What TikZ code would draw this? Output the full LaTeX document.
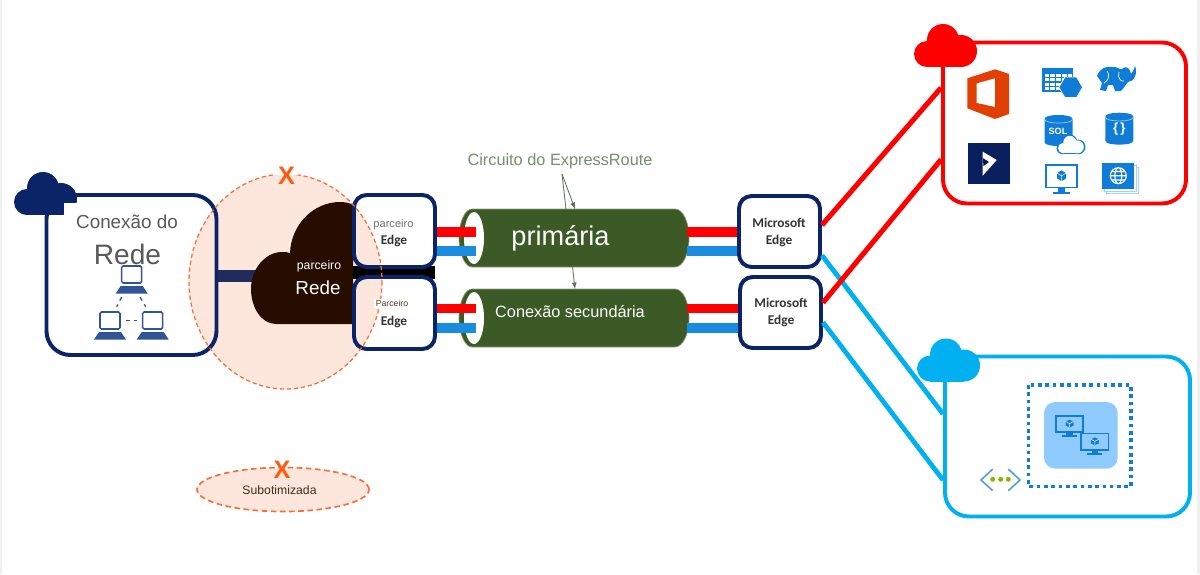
\documentclass[tikz,border=0pt]{standalone}
\usepackage{fontspec}
\setmainfont{Liberation Sans}
\newfontfamily\edgefont{Carlito}
\usetikzlibrary{shapes.geometric}
\definecolor{navyline}{HTML}{0B2468}
\definecolor{barnavy}{HTML}{222B5E}
\definecolor{lapblue}{HTML}{2F5597}
\definecolor{peach}{HTML}{FDE7DD}
\definecolor{dashorange}{HTML}{F4703A}
\definecolor{xorange}{HTML}{FF5A0E}
\definecolor{officered}{HTML}{E23F05}
\definecolor{netbrown}{HTML}{260D00}
\definecolor{tubegreen}{HTML}{3C5A25}
\definecolor{labelgreen}{HTML}{76906A}
\definecolor{barred}{HTML}{FF0000}
\definecolor{barblue}{HTML}{1A8CE0}
\definecolor{linkblue}{HTML}{00B0F0}
\definecolor{iconblue}{HTML}{0F7CD8}
\definecolor{vmback}{HTML}{8FCBFF}
\definecolor{vnetblue}{HTML}{59A5CC}
\definecolor{vnetgreen}{HTML}{7FBA00}
\definecolor{greytext}{HTML}{595959}
\tikzset{
  boxsize/.style 2 args={minimum width=#1*0.025cm,minimum height=#2*0.025cm,inner sep=0pt},
  custbox/.style={draw=navyline,line width=2.8pt,rounded corners=17pt},
  edgebox/.style={draw=navyline,line width=2.8pt,rounded corners=9pt},
  edgetext/.style={font=\edgefont\bfseries\fontsize{9.5}{11.6}\selectfont,text=black!80,align=center},
  crossmark/.style={font=\bfseries\fontsize{18}{18}\selectfont,text=xorange,inner sep=0pt},
  redlink/.style={draw=barred,line width=3.6pt},
  bluelink/.style={draw=linkblue,line width=3.4pt},
  redbar/.style={draw=barred,line width=6.6pt},
  bluebar/.style={draw=barblue,line width=6.6pt},
  circuitarrow/.style={draw=labelgreen!80!black,line width=0.6pt,-latex},
  cloudicon/.pic={
    \fill[pic actions] (13,30) circle (13);
    \fill[pic actions] (29,16) circle (16);
    \fill[pic actions] (47,27) circle (16);
    \fill[pic actions] (13,27) rectangle (47,43);
  },
  tube/.pic={
    \path[fill=tubegreen,draw=tubegreen!60!white,line width=0.5pt] (13,0) -- (216,0)
      .. controls (224,0) and (230,13) .. (230,29) .. controls (230,45) and (224,58) .. (216,58)
      -- (13,58) .. controls (6,58) and (0,45) .. (0,29) .. controls (0,13) and (6,0) .. (13,0) -- cycle;
    \fill[white] (15,29) ellipse[x radius=10,y radius=26];
    \coordinate (-mouth) at (17,29);
    \coordinate (-tail) at (228,29);
    \coordinate (-top) at (116,0);
  },
  monitor/.pic={
    \draw[draw=iconblue,line width=1.3pt] (1,1) rectangle (32,22);
    \fill[iconblue] (13,22) rectangle (20,26);
    \fill[iconblue] (8,26) rectangle (25,28);
    \fill[iconblue] (16.5,6) -- (21,8.5) -- (21,13.5) -- (16.5,16) -- (12,13.5) -- (12,8.5) -- cycle;
    \draw[white,line width=0.35pt] (12,8.5) -- (16.5,11) -- (21,8.5) (16.5,11) -- (16.5,16);
  },
  dbicon/.pic={
    \fill[iconblue] (0,4) .. controls (0,1) and (7,0) .. (14,0) .. controls (21,0) and (28,1) .. (28,4)
      -- (28,27) .. controls (28,30) and (21,31) .. (14,31) .. controls (7,31) and (0,30) .. (0,27) -- cycle;
    \draw[white!60!iconblue,line width=0.5pt] (0,4) .. controls (0,7) and (7,8) .. (14,8) .. controls (21,8) and (28,7) .. (28,4);
  },
}
\begin{document}
\begin{tikzpicture}[x=0.025cm,y=-0.025cm]
  \useasboundingbox (0,0) rectangle (1200,574);
  % Page edges
  \fill[black!6] (0,0) rectangle (2,574);
  \fill[black!6] (1197,0) rectangle (1200,574);
  % Suboptimal zone
  \fill[peach] (285.5,281.5) ellipse[x radius=96.5,y radius=107.5];
  \node[ellipse,boxsize={172}{44},fill=peach,draw=dashorange,line width=1.2pt,dash pattern=on 4pt off 2.5pt] (legendzone) at (283,489.5) {};
  % Link to the partner cloud
  \coordinate (barend) at (270,276);
  \node[custbox,boxsize={170}{160}] (custnet) at (131.5,275) {};
  \draw[draw=barnavy,line width=8.2pt] (custnet.east |- barend) -- (barend);
  % Partner network
  \fill[netbrown] (353,324) -- (276,324) .. controls (261,324) and (251,307) .. (251,289)
    .. controls (251,268) and (266,252) .. (282,252) .. controls (285,252) and (288,252) .. (290,253)
    .. controls (291,225) and (313,202) .. (340,202) .. controls (345,202) and (350,203) .. (353,205) -- cycle;
  \fill[black] (353,266) rectangle (435,279);
  \node[edgebox,boxsize={81}{72}] (edgea) at (394.5,231) {};
  \node[edgebox,boxsize={81}{72}] (edgeb) at (394.5,313) {};
  \node[edgebox,boxsize={81}{71}] (msedgea) at (779.5,231.5) {};
  \node[edgebox,boxsize={81}{71}] (msedgeb) at (780.5,312.5) {};
  % Circuit label and arrows
  \node[text=labelgreen,font=\fontsize{11.6}{14}\selectfont] (circuitlabel) at (560,161) {Circuito do ExpressRoute};
  \coordinate (arrowfork) at (562,174);
  \pic (tubeb) at (459,289) {tube};
  \draw[circuitarrow] (arrowfork) -- (tubeb-top);
  \pic (tubea) at (459,209) {tube};
  \draw[circuitarrow] (arrowfork) -- (tubea-top);
  % Bars through the tubes
  \foreach \tubename/\lefte/\righte/\ry/\by in {tubea/edgea/msedgea/232/251,tubeb/edgeb/msedgeb/308.5/328} {
    \draw[redbar] (\lefte.east |- 0,\ry) -- (\tubename-mouth |- 0,\ry);
    \draw[bluebar] (\lefte.east |- 0,\by) -- (\tubename-mouth |- 0,\by);
    \draw[redbar] (\tubename-tail |- 0,\ry) -- (\righte.west |- 0,\ry);
    \draw[bluebar] (\tubename-tail |- 0,\by) -- (\righte.west |- 0,\by);
  }
  % Dashed outline goes over the boxes
  \draw[draw=dashorange,line width=0.9pt,dash pattern=on 3pt off 2pt] (285.5,281.5) ellipse[x radius=96.5,y radius=107.5];
  \fill[white] (274,164) rectangle (298,175);
  % Destination boxes
  \node[draw=barred,line width=2.8pt,rounded corners=17pt,boxsize={243}{161}] (msservices) at (1064.5,123) {};
  \node[draw=linkblue,line width=2.8pt,rounded corners=17pt,boxsize={245}{160}] (azureservices) at (1067.5,436.5) {};
  \draw[bluelink] ([yshift=-17pt]msedgea.east) -- ([yshift=16pt]azureservices.west);
  \draw[bluelink] ([yshift=-7pt]msedgeb.east) -- ([yshift=-31pt]azureservices.west);
  \draw[redlink] ([yshift=4.6pt]msedgea.east) -- ([yshift=25pt]msservices.west);
  \draw[redlink] ([yshift=7pt]msedgeb.east) -- ([yshift=-26pt]msservices.west);
  % Clouds
  \pic[fill=navyline] at (14,172) {cloudicon};
  \fill[white] (64,202.5) rectangle (79,216);
  \pic[fill=barred] at (914,24) {cloudicon};
  \pic[fill=linkblue] at (917,338.5) {cloudicon};
  % Labels
  \node[text=greytext,font=\fontsize{13.4}{16}\selectfont] (custlabel) at (127,221.5) {Conexão do};
  \node[text=greytext,font=\fontsize{20}{24}\selectfont] (custrede) at (127.5,254) {Rede};
  \node[text=white,font=\fontsize{8.7}{10}\selectfont] (netlabel) at (319,266) {parceiro};
  \node[text=white,font=\fontsize{13.4}{16}\selectfont] (netrede) at (318,288) {Rede};
  \node[text=black!55,font=\fontsize{7.9}{9}\selectfont] (edgealabel) at (393.5,224.5) {parceiro};
  \node[edgetext] (edgeatext) at (394,240.5) {Edge};
  \node[text=black!55!brown,fill=white,inner sep=1pt,font=\fontsize{6.2}{8}\selectfont] (edgeblabel) at (392,303.5) {Parceiro};
  \node[edgetext,fill=white,inner sep=1pt] (edgebtext) at (394,321.5) {Edge};
  \node[edgetext] (msedgeatext) at (779,232.5) {Microsoft\\Edge};
  \node[edgetext] (msedgebtext) at (781,312.5) {Microsoft\\Edge};
  \node[text=white,font=\fontsize{19.3}{23}\selectfont] (primarylabel) at (560.5,238) {primária};
  \node[text=white,font=\fontsize{11.6}{14}\selectfont] (secondarylabel) at (570,312) {Conexão secundária};
  \node[crossmark] (riskx) at (286.5,176) {X};
  \node[crossmark] (legendx) at (282,470) {X};
  \node[text=black!65!brown,font=\fontsize{8.7}{10}\selectfont] (legendlabel) at (279.5,490) {Subotimizada};
  % Customer network icon
  \foreach \px/\py/\lapname in {131.7/266/lapa,110/312/lapb,152.7/312/lapc} {
    \draw[draw=lapblue,line width=1.1pt,rounded corners=1pt] (\px-10,\py) rectangle (\px+10,\py+17);
    \fill[lapblue] (\px-11,\py+20) -- (\px+11,\py+20) -- (\px+16,\py+27.5) -- (\px-16,\py+27.5) -- cycle;
    \coordinate (\lapname) at (\px,\py);
  }
  \draw[lapblue,line width=0.9pt,dashed] (121.7,297) -- (116.7,306.7);
  \draw[lapblue,line width=0.9pt,dashed] (140,297) -- (145.7,306.7);
  \draw[lapblue,line width=0.9pt,dashed] (126,320.7) -- (137.3,320.7);
  % Office
  \fill[even odd rule,fill=officered] (967.3,78.3) -- (995,69.3) -- (1009,74) -- (1009,114) -- (995,119) -- (967.3,108.3) -- cycle
    (976.7,83.3) -- (995,78.3) -- (995,107) -- (976.7,103) -- cycle;
  % Dynamics
  \fill[navyline!90!black] (968.3,142.7) rectangle (1010,184);
  \fill[white] (982.7,151.7) -- (996.7,160) -- (982.7,175.7) -- cycle;
  \fill[black!35!navyline] (982.7,158) -- (989,162) -- (983.5,166) -- cycle;
  % Table
  \fill[iconblue] (1042.3,67.7) rectangle (1073.3,92.3);
  \foreach \i in {0,...,4}
    \foreach \j in {0,...,3}
      \fill[white] (1044.5+\i*5.8,73.5+\j*4.5) rectangle +(4.6,3.3);
  \fill[iconblue,draw=white,line width=0.5pt] (1082.5,87.3) -- (1076.6,97.5) -- (1064.8,97.5) -- (1058.9,87.3) -- (1064.8,77.1) -- (1076.6,77.1) -- cycle;
  % Elephant
  \fill[iconblue] (1097,76) .. controls (1100,68) and (1106,66) .. (1112,67) .. controls (1116,66) and (1120,70) .. (1122,69)
    .. controls (1126,65) and (1130,68) .. (1131,74) .. controls (1133,72) and (1134,69) .. (1135,66)
    .. controls (1138,73) and (1134,82) .. (1128,82) .. controls (1126,84) and (1124,88) .. (1121,91)
    -- (1115,91) -- (1113,85) -- (1108,85) -- (1106,91) -- (1100,90) -- (1102,83) -- cycle;
  \draw[white,line width=0.5pt] (1107,71) .. controls (1111,77) and (1107,81) .. (1104,83) (1119,72) .. controls (1117,78) and (1121,82) .. (1124,81);
  % Databases
  \pic at (1044.5,115) {dbicon};
  \node[text=white,font=\bfseries\fontsize{6.5}{7}\selectfont,inner sep=0pt] (sqltext) at (1058,131.7) {SOL};
  \pic[fill=iconblue,scale=0.46] at (1056.5,134.5) {cloudicon};
  \pic[fill=white,scale=0.41] at (1058,135.8) {cloudicon};
  \pic[yscale=1.03] at (1105.3,112.7) {dbicon};
  \node[text=white,font=\bfseries\fontsize{9.5}{10}\selectfont,inner sep=0pt] (docdbtext) at (1119.3,129) {\{\,\}};
  % Virtual machine
  \pic[yscale=1.07] at (1045,164) {monitor};
  % Web stack
  \draw[iconblue!35!white,line width=0.6pt] (1106,167) rectangle (1138,193);
  \draw[iconblue!35!white,fill=white,line width=0.6pt] (1104,165) rectangle (1136,191);
  \fill[iconblue] (1102.3,163.3) rectangle (1134.3,189);
  \draw[white,line width=0.8pt] (1118.3,175.7) circle (8) (1118.3,175.7) ellipse[x radius=3.5,y radius=8]
    (1110.3,175.7) -- (1126.3,175.7) (1111.5,171.5) -- (1125,171.5) (1111.5,180) -- (1125,180);
  % Azure side
  \draw[iconblue,line width=2.5pt,dash pattern=on 2.6pt off 2.6pt] (1028.5,385) rectangle (1131,486.5);
  \fill[vmback,rounded corners=8pt] (1044,402) rectangle (1117.7,468.7);
  \pic[xscale=0.88,yscale=0.78] at (1055,415) {monitor};
  \pic[xscale=0.88,yscale=0.78] at (1080.3,432.7) {monitor};
  % Virtual network
  \draw[vnetblue,line width=1.2pt] (992.7,469) -- (981,480) -- (992.7,490.7);
  \draw[vnetblue,line width=1.2pt] (1008.3,469) -- (1020,480) -- (1008.3,490.7);
  \foreach \dotx in {992.7,1000.7,1008.3}
    \fill[vnetgreen] (\dotx,479.3) circle (2.5);
\end{tikzpicture}
\end{document}
